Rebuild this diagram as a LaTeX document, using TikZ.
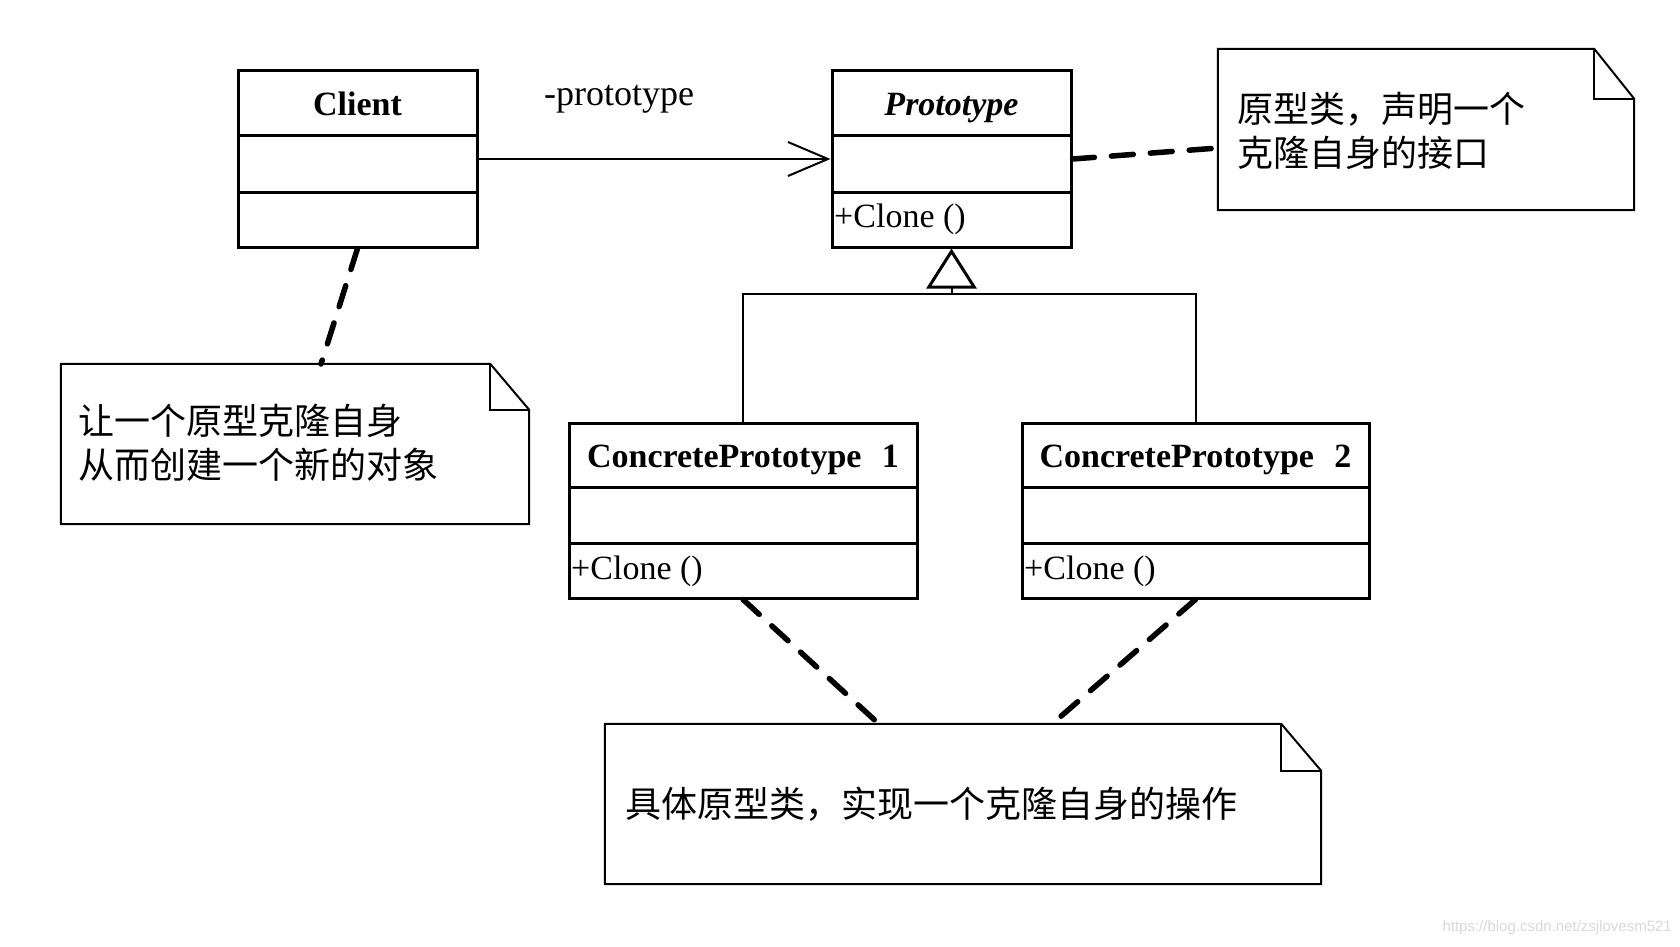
\documentclass[tikz,border=0pt]{standalone}
\usepackage{fontspec}
\setmainfont{Liberation Serif}
\newfontfamily\cjk{Noto Sans CJK SC}
\newfontfamily\wmfont{Liberation Sans}
\usetikzlibrary{arrows.meta}
\begin{document}
\begin{tikzpicture}[x=1pt,y=-1pt,
  classbox/.style={draw, line width=3pt, minimum width=#1, minimum height=176pt, inner sep=0pt},
  boxline/.style={line width=3pt},
  namefont/.style={font=\fontsize{34}{40}\selectfont\bfseries, inner sep=0pt, anchor=base},
  opfont/.style={font=\fontsize{34}{40}\selectfont, inner sep=0pt, anchor=west},
  notebox/.style={draw=none, inner sep=0pt},
  noteline/.style={line width=2pt, line join=miter},
  notetext/.style={font=\fontsize{36}{44}\selectfont\cjk, align=left, inner sep=0pt, anchor=west},
  dashline/.style={line width=5.5pt, line cap=round, dash pattern=on 22pt off 17pt},
  conn/.style={line width=2pt}
]
\path[use as bounding box, fill=white] (0,0) rectangle (1680,947);

% Client
\node[classbox=239pt] (client) at (357.5,159) {};
\draw[boxline] (238,135) -- (477,135);
\draw[boxline] (238,192) -- (477,192);
\node[namefont] (clientname) at (357.5,116) {Client};

% Prototype
\node[classbox=239pt] (proto) at (951.5,159) {};
\draw[boxline] (832,135) -- (1071,135);
\draw[boxline] (832,192) -- (1071,192);
\node[namefont, font=\fontsize{34}{40}\selectfont\bfseries\itshape] (protoname) at (951.5,116) {Prototype};
\node[opfont] (protoop) at (834,219.5) {+Clone ()};

% ConcretePrototype 1
\node[classbox=348pt, minimum height=175pt] (cp1) at (743,510.5) {};
\draw[boxline] (569,487) -- (917,487);
\draw[boxline] (569,543) -- (917,543);
\node[namefont] (cp1name) at (743,467) {ConcretePrototype\hspace{0.6em}1};
\node[opfont] (cp1op) at (571,571) {+Clone ()};

% ConcretePrototype 2
\node[classbox=347pt, minimum height=175pt] (cp2) at (1195.5,510.5) {};
\draw[boxline] (1022,487) -- (1369,487);
\draw[boxline] (1022,543) -- (1369,543);
\node[namefont] (cp2name) at (1195.5,467) {ConcretePrototype\hspace{0.6em}2};
\node[opfont] (cp2op) at (1024,571) {+Clone ()};

% association
\draw[conn, -{Straight Barb[length=40pt, width=34pt, line width=2pt]}] (client.east) -- (proto.west);
\node[font=\fontsize{36}{40}\selectfont, inner sep=0pt] (rolelabel) at (619,99) {-prototype};

% generalization
\coordinate (junc) at (951.5,294);
\draw[conn] (cp1.north) |- (junc) -| (cp2.north);
\draw[conn, -{Triangle[open, length=40pt, width=50pt, line width=3pt]}] (junc) -- (proto.south);

% Note 1
\node[notebox, minimum width=416pt, minimum height=161pt] (n1) at (1426,129.5) {};
\draw[noteline] (n1.north west) -- ([xshift=-40pt]n1.north east) -- ([yshift=-50pt]n1.north east) -- (n1.south east) -- (n1.south west) -- cycle;
\draw[noteline] ([xshift=-40pt]n1.north east) -- ([xshift=-40pt,yshift=-50pt]n1.north east) -- ([yshift=-50pt]n1.north east);
\node[notetext] (n1text) at (1237,130.5) {原型类，声明一个\\克隆自身的接口};

% Note 2
\node[notebox, minimum width=468pt, minimum height=160pt] (n2) at (295,444) {};
\draw[noteline] (n2.north west) -- ([xshift=-39pt]n2.north east) -- ([yshift=-46pt]n2.north east) -- (n2.south east) -- (n2.south west) -- cycle;
\draw[noteline] ([xshift=-39pt]n2.north east) -- ([xshift=-39pt,yshift=-46pt]n2.north east) -- ([yshift=-46pt]n2.north east);
\node[notetext] (n2text) at (78,443) {让一个原型克隆自身\\从而创建一个新的对象};

% Note 3
\node[notebox, minimum width=716pt, minimum height=160pt] (n3) at (963,804) {};
\draw[noteline] (n3.north west) -- ([xshift=-40pt]n3.north east) -- ([yshift=-47pt]n3.north east) -- (n3.south east) -- (n3.south west) -- cycle;
\draw[noteline] ([xshift=-40pt]n3.north east) -- ([xshift=-40pt,yshift=-47pt]n3.north east) -- ([yshift=-47pt]n3.north east);
\node[notetext] (n3text) at (625,804) {具体原型类，实现一个克隆自身的操作};

% note attachments
\coordinate (n1in) at (1218,148);
\coordinate (n2in) at (321,364);
\coordinate (n3ina) at (879,724);
\coordinate (n3inb) at (1052,724);
\draw[dashline] (proto.east) -- (n1in);
\draw[dashline] (client.south) -- (n2in);
\draw[dashline] (cp1.south) -- (n3ina);
\draw[dashline] (cp2.south) -- (n3inb);

% watermark
\node[font=\fontsize{15}{18}\selectfont\wmfont, text=gray!30, anchor=east, inner sep=0pt] (wm) at (1672,928) {https://blog.csdn.net/zsjlovesm521};
\end{tikzpicture}
\end{document}
